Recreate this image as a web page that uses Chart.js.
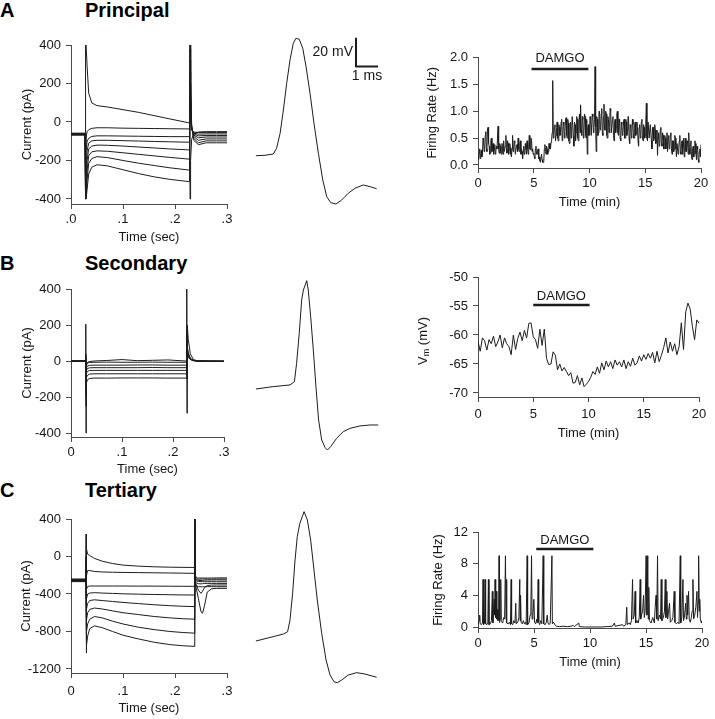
<!DOCTYPE html>
<html><head><meta charset="utf-8">
<script src="https://cdn.jsdelivr.net/npm/chart.js@4.4.1/dist/chart.umd.min.js"></script>
<style>
html,body{margin:0;padding:0;background:#fff;}
#wrap{position:relative;width:715px;height:719px;overflow:hidden;background:#fff;}
#wrap canvas{position:absolute;left:0;top:0;pointer-events:none;}
.ttl{position:absolute;font:bold 20px "Liberation Sans",Arial,sans-serif;line-height:20px;color:#000;white-space:nowrap;}
</style></head><body>
<div id="wrap">
<div class="ttl" style="left:0;top:0">A</div><div class="ttl" style="left:85px;top:0">Principal</div>
<div class="ttl" style="left:0;top:253px">B</div><div class="ttl" style="left:85px;top:253px">Secondary</div>
<div class="ttl" style="left:0;top:480px">C</div><div class="ttl" style="left:85px;top:480px">Tertiary</div>
<canvas id="la" width="715" height="719"></canvas>
<canvas id="ma" width="715" height="719"></canvas>
<canvas id="ra" width="715" height="719"></canvas>
<canvas id="lb" width="715" height="719"></canvas>
<canvas id="mb" width="715" height="719"></canvas>
<canvas id="rb" width="715" height="719"></canvas>
<canvas id="lc" width="715" height="719"></canvas>
<canvas id="mc" width="715" height="719"></canvas>
<canvas id="rc" width="715" height="719"></canvas>
</div>
<script>
// ---------------- DATA ----------------
// Left column: voltage-clamp current sweeps (time in s, current in pA)
const timesA = [0,0.027,0.028,0.029,0.031,0.034,0.04,0.05,0.07,0.1,0.13,0.16,0.19,0.228,0.229,0.230,0.232,0.236,0.245,0.26,0.28,0.3];
const sweepsA = [
  [-58,-58,400,400,290,150,99,85,78,64,50,33,16,-5,-400,-200,-90,-60,-52,-50,-50,-50],
  [-60,-60,-150,-80,-50,-40,-33,-30,-30,-32,-33,-34,-35,-36,120,10,-40,-52,-55,-55,-55,-55],
  [-61,-61,-250,-150,-100,-85,-75,-72,-72,-73,-74,-75,-76,-76,200,40,-40,-58,-63,-62,-62,-62],
  [-63,-63,-330,-220,-150,-110,-98,-95,-95,-97,-99,-101,-103,-105,260,70,-35,-62,-72,-70,-70,-70],
  [-64,-64,-400,-300,-200,-140,-125,-120,-121,-125,-130,-135,-140,-145,320,100,-30,-68,-82,-78,-78,-78],
  [-65,-65,-400,-350,-250,-175,-155,-150,-152,-160,-168,-176,-184,-193,380,140,-25,-75,-95,-88,-88,-88],
  [-67,-67,-400,-400,-300,-215,-190,-180,-185,-200,-214,-226,-238,-250,400,180,-20,-85,-108,-98,-98,-98],
  [-68,-68,-400,-400,-350,-270,-235,-222,-228,-248,-268,-285,-298,-310,400,220,-15,-95,-118,-108,-108,-108]
];
const timesB = [0,0.028,0.029,0.0295,0.030,0.032,0.036,0.045,0.07,0.1,0.13,0.16,0.19,0.226,0.227,0.2275,0.228,0.230,0.234,0.24,0.25,0.27,0.3];
const sweepsB = [
  [-2,0,205,-400,-20,-8,-3,0,3,8,2,4,6,0,400,-290,200,120,40,8,0,-2,-3],
  [0,-1,40,-60,-25,-12,-8,-7,-6,-7,-7,-6,-7,-7,60,-30,30,20,8,2,0,-1,-1],
  [-1,0,30,-90,-40,-28,-24,-23,-23,-23,-22,-22,-23,-23,80,-40,40,25,10,2,-1,-2,-2],
  [1,0,20,-120,-55,-42,-38,-37,-37,-37,-37,-36,-37,-37,100,-50,50,30,10,3,0,-1,-1],
  [0,0,10,-150,-70,-58,-53,-52,-52,-52,-52,-52,-52,-52,120,-60,60,35,12,3,0,0,-1],
  [0,-1,0,-200,-95,-80,-73,-71,-71,-71,-71,-71,-71,-71,150,-80,70,40,12,3,0,-1,-1],
  [-1,0,-10,-250,-125,-105,-97,-95,-95,-94,-94,-94,-95,-95,180,-100,80,45,15,4,0,-1,-2]
];
const timesC = [0,0.028,0.029,0.0295,0.030,0.032,0.036,0.045,0.06,0.08,0.1,0.13,0.16,0.19,0.215,0.238,0.2385,0.239,0.2395,0.241,0.245,0.25,0.253,0.257,0.262,0.27,0.28,0.3];
const sweepsC = [
  [-240,-240,240,-100,80,25,10,-20,-50,-75,-92,-103,-110,-114,-116,-117,400,-300,-200,-228,-230,-230,-229,-230,-230,-230,-229,-228],
  [-245,-245,0,-300,-200,-150,-150,-160,-165,-168,-170,-172,-174,-176,-178,-180,300,-250,-230,-240,-242,-241,-240,-240,-241,-241,-240,-240],
  [-250,-250,-50,-450,-350,-320,-315,-315,-315,-315,-315,-316,-316,-317,-318,-318,250,-260,-240,-250,-255,-258,-256,-252,-251,-251,-250,-251],
  [-253,-253,-100,-550,-450,-400,-390,-386,-390,-394,-398,-402,-405,-408,-410,-411,200,-270,-250,-262,-266,-268,-268,-269,-269,-269,-269,-269],
  [-256,-256,-150,-650,-560,-500,-470,-462,-470,-480,-490,-503,-515,-525,-531,-535,250,-280,-270,-283,-290,-292,-290,-288,-287,-287,-287,-287],
  [-260,-260,-200,-780,-680,-600,-565,-550,-560,-580,-600,-620,-640,-655,-664,-669,300,-290,-280,-300,-360,-393,-370,-330,-310,-305,-304,-304],
  [-264,-264,-250,-900,-800,-720,-670,-640,-655,-690,-720,-755,-780,-800,-811,-818,350,-300,-290,-315,-322,-323,-323,-322,-322,-322,-322,-322],
  [-268,-268,-300,-1030,-950,-850,-770,-740,-760,-800,-840,-880,-915,-940,-952,-959,400,-310,-300,-340,-450,-590,-605,-520,-380,-345,-340,-340]
];
const secTicks = [0, 0.1, 0.2, 0.3];
const secLabelsA = ['.0', '.1', '.2', '.3'];
const secLabelsBC = ['0', '.1', '.2', '.3'];
const currTicksAB = [400, 200, 0, -200, -400];
const currTicksC = [400, 0, -400, -800, -1200];

// Middle column: action potential waveforms (time in ms, Vm in mV)
const apTimeA = [0.45,0.86,1.24,1.39,1.55,1.70,1.85,2.0,2.15,2.27,2.42,2.58,2.73,2.91,3.09,3.29,3.49,3.67,3.85,4.09,4.35,4.65,4.95,5.33,5.64,5.94];
const apVmA   = [-59.8,-59.5,-58.6,-54.5,-43.8,-27.1,-8.1,8.6,20.5,24.1,23.4,16.9,3.8,-15.2,-36.6,-58.1,-77.1,-89.1,-93.3,-94.3,-91.4,-86.6,-83.1,-80.7,-81.9,-83.4];
const apTimeB = [0.45,1.24,2.0,2.2,2.30,2.42,2.53,2.61,2.76,2.83,2.94,3.06,3.18,3.30,3.44,3.59,3.70,3.85,4.12,4.42,4.73,5.18,5.64,6.01];
const apVmB   = [-60,-58.3,-57.1,-54.8,-41.7,-20.2,3.6,10.7,17.4,10.7,-8.4,-32.1,-58.4,-82.1,-96.4,-101.7,-103.6,-101.2,-95.2,-90.5,-88.1,-86.4,-85.7,-85.7];
const apTimeC = [0.45,1.24,1.70,1.89,2.0,2.12,2.23,2.33,2.45,2.64,2.79,2.94,3.09,3.24,3.44,3.64,3.82,4.0,4.15,4.35,4.65,5.03,5.41,5.94];
const apVmC   = [-60,-56.9,-55,-53.4,-45,-25.9,-2.1,14.5,24.1,32.4,26.4,12.1,-9.3,-30.7,-54.5,-73.6,-84.3,-89.1,-89.8,-87.9,-84.3,-82.6,-83.6,-85.9];
const scaleBarMs = [5.0, 5.0, 6.0];     // 1 ms horizontal
const scaleBarMv = [24, 4, 4];          // 20 mV vertical

// Right column: time courses (min)
const minTicks = [0, 5, 10, 15, 20];
const minLabels = ['0', '5', '10', '15', '20'];
const rateStepA = 0.05; // min between samples
const rateA = [
  0.15,0.1,0.22,0.3,0.12,0.2,0.28,0.15,0.2,0.5,0.45,0.25,0.3,0.55,0.62,0.3,0.25,0.68,0.7,0.4,
  0.35,0.2,0.22,0.45,0.5,0.25,0.28,0.4,0.2,0.3,0.38,0.2,0.25,0.35,0.3,0.5,0.72,0.3,0.22,0.4,
  0.35,0.22,0.2,0.4,0.3,0.2,0.45,0.25,0.25,0.35,0.55,0.3,0.22,0.45,0.4,0.2,0.28,0.4,0.32,0.2,
  0.15,0.3,0.55,0.25,0.3,0.45,0.42,0.2,0.2,0.35,0.38,0.25,0.5,0.3,0.25,0.4,0.45,0.2,0.3,0.25,
  0.12,0.25,0.35,0.2,0.25,0.4,0.3,0.2,0.45,0.3,0.2,0.35,0.55,0.3,0.28,0.5,0.48,0.25,0.3,0.2,
  0.22,0.15,0.12,0.3,0.35,0.2,0.2,0.28,0.3,0.12,0.15,0.08,0.05,0.05,0.2,0.1,0.05,0.05,0.08,0.3,
  0.38,0.25,0.2,0.35,0.3,0.2,0.25,0.4,0.4,0.3,0.3,0.42,0.45,0.6,1.57,0.5,0.55,0.7,0.75,0.45,
  0.55,0.7,0.8,0.5,0.45,0.75,0.7,0.55,0.6,0.8,0.85,0.45,0.5,0.8,0.75,0.5,0.62,0.85,0.88,0.55,
  0.5,0.85,0.78,0.45,0.4,0.75,0.8,0.5,0.65,0.9,0.9,0.55,0.35,0.8,0.75,0.45,0.6,0.9,0.85,0.5,
  0.45,0.8,0.95,0.6,1.12,0.65,0.55,0.9,0.85,0.5,0.6,0.95,0.9,0.55,0.5,0.85,0.2,0.7,0.75,0.55,
  0.6,0.9,0.85,0.55,0.55,0.95,0.9,0.6,0.7,0.85,1.83,0.7,0.25,0.9,0.85,0.55,0.6,1.0,1.0,0.65,
  0.7,0.95,1.05,0.6,0.55,0.9,1.13,0.65,0.65,1.0,0.95,0.55,0.5,0.9,0.85,0.6,0.7,1.05,1.0,0.6,
  0.6,0.85,0.9,0.55,0.45,0.8,0.85,0.6,0.7,0.95,1.0,0.6,0.55,0.85,0.8,0.5,0.45,0.8,0.75,0.55,
  0.6,0.8,0.85,0.5,0.5,0.85,0.8,0.55,0.65,0.9,0.9,0.5,0.4,0.75,0.7,0.5,0.6,0.85,0.75,0.5,
  0.5,0.75,0.8,0.55,0.6,0.8,0.7,0.45,0.35,0.7,0.75,0.5,0.55,0.8,0.85,0.5,0.45,0.75,0.7,0.5,
  0.55,0.8,1.15,0.5,0.45,0.8,0.8,0.5,0.5,0.75,0.75,0.45,0.3,0.7,0.7,0.45,0.5,0.75,0.65,0.4,
  0.45,0.65,0.18,0.5,0.6,0.35,0.4,0.65,0.7,0.4,0.35,0.6,0.55,0.3,0.3,0.55,0.5,0.3,0.4,0.6,
  0.25,0.5,0.55,0.3,0.35,0.55,0.6,0.3,0.2,0.45,0.45,0.25,0.3,0.55,0.5,0.3,0.15,0.4,0.4,0.2,
  0.3,0.45,0.55,0.25,0.2,0.4,0.45,0.2,0.35,0.5,0.15,0.35,0.5,0.25,0.25,0.45,0.4,0.2,0.6,0.3,
  0.2,0.4,0.45,0.15,0.1,0.3,0.35,0.15,0.25,0.45,0.4,0.2,0.1,0.35,0.3,0.1,0.05,0.25,0.3,0.15,0.38
];
const rateTicksA = [0, 0.5, 1, 1.5, 2];
const rateLabelsA = ['0.0', '0.5', '1.0', '1.5', '2.0'];
const damgoA = [4.8, 9.9], damgoLevelA = 1.786;

const vmStepB = 0.2; // min between samples
const vmB = [
  -61.1,-62.8,-60.5,-61.0,-62.6,-60.8,-61.5,-60.2,-62.0,-61.2,
  -60.0,-62.2,-60.5,-61.5,-62.0,-63.4,-60.0,-62.5,-60.6,-59.5,
  -61.0,-59.2,-60.5,-58.0,-57.9,-60.3,-60.8,-62.3,-59.0,-61.8,
  -59.0,-64.0,-65.1,-65.0,-62.9,-63.5,-66.0,-65.0,-66.2,-65.6,
  -66.3,-67.0,-66.5,-68.3,-68.2,-67.0,-68.6,-67.4,-68.9,-68.5,
  -68.0,-67.3,-66.3,-66.8,-65.5,-66.6,-64.8,-66.0,-64.5,-65.5,
  -64.6,-65.8,-64.3,-65.2,-64.6,-65.5,-64.3,-65.8,-64.6,-65.4,
  -64.0,-65.2,-64.8,-63.6,-64.5,-63.4,-64.2,-63.2,-64.0,-63.0,
  -64.8,-62.8,-64.6,-63.5,-62.2,-60.5,-63.1,-61.2,-62.8,-61.5,
  -63.4,-62.0,-57.9,-62.5,-56.0,-54.5,-55.5,-58.5,-60.8,-57.4,
  -58.0
];
const vmTicksB = [-70, -65, -60, -55, -50];
const vmLabelsB = ['-70', '-65', '-60', '-55', '-50'];
const damgoB = [5.0, 10.1], damgoLevelB = -54.83;

const rateC = [
  [0,0.3],[0.1,0.8],[0.15,1.5],[0.2,0.4],[0.3,0.3],[0.4,0.5],[0.45,6],[0.5,0.3],[0.58,0.5],[0.63,6],[0.68,0.4],[0.8,0.3],[0.88,0.6],[0.93,6],[0.98,0.3],
  [1.1,0.4],[1.2,0.8],[1.28,4.5],[1.33,0.5],[1.4,2.5],[1.45,3.5],[1.5,1.5],[1.52,6],[1.56,2.8],[1.6,1.2],[1.64,4.5],[1.68,1.0],[1.72,2.2],[1.78,0.8],[1.84,1.2],[1.88,9],[1.92,0.6],[1.98,1.0],
  [2.03,6],[2.08,0.7],[2.2,0.5],[2.3,1.2],[2.38,1.0],[2.45,9],[2.5,1.2],[2.54,6],[2.58,0.5],[2.7,0.4],[2.8,0.6],[2.9,0.3],[2.96,6],
  [3.0,0.4],[3.1,0.3],[3.2,0.8],[3.3,0.5],[3.37,3],[3.42,0.4],[3.55,0.6],[3.65,1.2],[3.73,6],[3.76,0.8],[3.8,4],[3.85,0.6],[3.95,0.4],
  [4.05,0.8],[4.15,0.4],[4.25,0.6],[4.3,0.3],[4.39,9],[4.43,0.3],[4.55,0.5],[4.65,1.5],[4.72,2.0],[4.78,9],[4.83,1.0],[4.9,1.5],[4.99,3.5],
  [5.05,0.6],[5.15,0.4],[5.25,1.0],[5.3,0.5],[5.37,6],[5.42,0.6],[5.5,0.3],[5.6,0.8],[5.7,0.4],[5.82,9],[5.87,0.4],
  [6.0,0.3],[6.1,0.6],[6.18,1.5],[6.25,0.5],[6.35,0.3],[6.45,0.5],[6.6,9],[6.64,0.4],[6.7,0.6],[6.8,0.5],[6.9,0.2],
  [7.0,0.1],[7.3,0.05],[7.6,0.1],[8.0,0.05],[8.3,0.1],[8.5,0.2],[8.6,0.05],[9.0,0.5],[9.05,0.05],[9.5,0.0],[10.0,0.0],[10.5,0.0],[11.0,0.0],[11.5,0.05],
  [12.0,0.1],[12.18,0.5],[12.25,0.1],[12.6,0.2],[12.9,0.3],[13.0,0.1],[13.2,0.3],[13.28,2.5],[13.33,0.3],[13.5,0.5],[13.6,0.3],[13.7,0.8],[13.8,6],[13.85,1.0],[13.95,1.5],
  [14.03,4.5],[14.08,0.5],[14.2,0.8],[14.3,0.5],[14.4,1.2],[14.48,6],[14.53,1.0],[14.6,1.5],[14.7,2.0],[14.78,4],[14.85,1.2],[14.92,2.0],
  [15.01,9],[15.08,1.5],[15.16,9],[15.2,1.0],[15.25,5],[15.3,0.8],[15.45,0.5],[15.6,1.2],[15.75,0.5],[15.82,2.5],[15.9,4],[15.96,1.0],
  [16.03,9],[16.08,0.8],[16.2,1.5],[16.3,1.0],[16.36,6],[16.42,0.8],[16.55,1.2],[16.65,2.0],[16.72,6],[16.78,1.2],[16.87,4.5],[16.93,1.0],
  [17.0,1.8],[17.1,3],[17.17,0.6],[17.3,0.8],[17.4,1.2],[17.52,4.5],[17.58,0.6],[17.7,0.4],[17.85,0.6],[17.95,0.4],
  [18.06,9],[18.1,0.5],[18.2,1.2],[18.3,6],[18.35,0.8],[18.45,1.5],[18.54,3],[18.6,1.0],[18.66,4],[18.72,1.5],[18.8,4.5],[18.86,1.0],[18.95,0.6],
  [19.05,1.2],[19.12,2.0],[19.19,6],[19.25,1.0],[19.35,1.5],[19.45,2.5],[19.55,4.5],[19.6,1.2],[19.65,3],[19.7,9],[19.75,2.0],[19.8,3.5],[19.85,1.0],[19.9,1.0],[19.95,0.5],[20.0,0.8]
];
const rateTicksC = [0, 4, 8, 12];
const rateLabelsC = ['0', '4', '8', '12'];
const damgoC = [5.2, 10.3], damgoLevelC = 9.85;

// ---------------- RENDERING ----------------
const W = 715, H = 719, FS = 13, LH = FS * 1.2;
const FONT = '"Liberation Sans", Arial, Helvetica, sans-serif';
const AXIS = '#4a4a4a', TRACE = '#1c1c1c', TEXT = '#161616';
Chart.defaults.font.family = FONT;
Chart.defaults.font.size = FS;
Chart.defaults.color = TEXT;

const textMarks = {
  id: 'textMarks',
  afterDatasetsDraw(chart, args, opts) {
    const items = opts.items || [];
    if (!items.length) return;
    const ctx = chart.ctx;
    ctx.save();
    items.forEach(it => {
      const x = chart.scales.x.getPixelForValue(it.x) + (it.dx || 0);
      const y = chart.scales.y.getPixelForValue(it.y) + (it.dy || 0);
      ctx.font = (it.size || FS) + 'px ' + FONT;
      ctx.fillStyle = TEXT;
      ctx.textAlign = it.align || 'center';
      ctx.textBaseline = 'middle';
      ctx.fillText(it.text, x, y);
    });
    ctx.restore();
  }
};
const vmTitle = {
  id: 'vmTitle',
  afterDraw(chart, args, opts) {
    if (!opts.show) return;
    const ys = chart.scales.y, ctx = chart.ctx, ca = chart.chartArea;
    const cx = ys.left + LH / 2, cy = (ca.top + ca.bottom) / 2 + 4;
    const big = FS + 'px ' + FONT, small = '9px ' + FONT;
    ctx.save();
    ctx.translate(cx, cy); ctx.rotate(-Math.PI / 2);
    ctx.fillStyle = TEXT; ctx.textBaseline = 'middle'; ctx.textAlign = 'left';
    ctx.font = big; const w1 = ctx.measureText('V').width, w3 = ctx.measureText(' (mV)').width;
    ctx.font = small; const w2 = ctx.measureText('m').width;
    let x = -(w1 + w2 + w3) / 2;
    ctx.font = big; ctx.fillText('V', x, 0); x += w1;
    ctx.font = small; ctx.fillText('m', x, 4); x += w2;
    ctx.font = big; ctx.fillText(' (mV)', x, 0);
    ctx.restore();
  }
};
Chart.register(textMarks, vmTitle);

function xy(xs, ys) { return xs.map((x, i) => ({ x: x, y: ys[i] })); }
function series(step, vals) { return vals.map((v, i) => ({ x: +(i * step).toFixed(3), y: v })); }
function trace(data, w) { return { data: data, borderColor: TRACE, borderWidth: w || 1, pointRadius: 0, tension: 0, fill: false, borderJoinStyle: 'round' }; }

function axisChart(id, g, datasets, ax) {
  const padL = g.yTitleX - LH / 2, yw = g.L - padL;
  const sb = g.xTitleY + LH / 2, xh = sb - g.B;
  const setTicks = vals => s => { s.ticks = vals.map(v => ({ value: v })); };
  const gridOpt = { display: true, drawOnChartArea: false, drawTicks: true, tickLength: 5, color: AXIS, lineWidth: 1 };
  return new Chart(document.getElementById(id), {
    type: 'line',
    data: { datasets: datasets },
    options: {
      responsive: false, animation: false, events: [],
      layout: { padding: { left: padL, top: g.T, right: W - g.R, bottom: H - sb } },
      plugins: { legend: { display: false }, tooltip: { enabled: false },
                 textMarks: { items: ax.texts || [] }, vmTitle: { show: !!ax.vmTitle } },
      scales: {
        x: { type: 'linear', position: 'bottom', min: ax.xMin, max: ax.xMax,
             afterFit: s => { s.height = xh; },
             afterBuildTicks: setTicks(ax.xTicks),
             ticks: { callback: (v, i) => ax.xLabels[i], autoSkip: false, maxRotation: 0, padding: ax.xPad == null ? 3 : ax.xPad, color: TEXT },
             grid: gridOpt, border: { display: true, color: AXIS, width: 1 },
             title: { display: true, text: ax.xTitle, padding: 0, color: TEXT } },
        y: { type: 'linear', position: 'left', min: ax.yMin, max: ax.yMax,
             afterFit: s => { s.width = yw; },
             afterBuildTicks: setTicks(ax.yTicks),
             ticks: { callback: (v, i) => ax.yLabels[i], autoSkip: false, padding: 5, color: TEXT },
             grid: gridOpt, border: { display: true, color: AXIS, width: 1 },
             title: { display: !ax.vmTitle, text: ax.yTitle || '', padding: 0, color: TEXT } }
      }
    }
  });
}

function apChart(id, top, datasets, texts) {
  return new Chart(document.getElementById(id), {
    type: 'line',
    data: { datasets: datasets },
    options: {
      responsive: false, animation: false, events: [],
      layout: { padding: { left: 246, right: W - 400, top: top, bottom: H - (top + 210) } },
      plugins: { legend: { display: false }, tooltip: { enabled: false }, textMarks: { items: texts || [] } },
      scales: { x: { type: 'linear', display: false, min: 0, max: 7 },
                y: { type: 'linear', display: false, min: -110, max: 40 } }
    }
  });
}

// Row A
axisChart('la', { L: 71, T: 45, R: 227, B: 204, yTitleX: 27, xTitleY: 237 },
  sweepsA.map(s => trace(xy(timesA, s))),
  { xMin: 0, xMax: 0.3, xTicks: secTicks, xLabels: secLabelsA, xTitle: 'Time (sec)',
    yMin: -426, yMax: 400, yTicks: currTicksAB, yLabels: currTicksAB.map(String), yTitle: 'Current (pA)' });
apChart('ma', 16, [trace(xy(apTimeA, apVmA)), trace(xy(scaleBarMs, scaleBarMv), 2)],
  [{ text: '20 mV', x: scaleBarMs[0], y: 14, dx: -3, align: 'right', size: 14 },
   { text: '1 ms', x: 5.5, y: scaleBarMv[2], dy: 10, size: 14 }]);
axisChart('ra', { L: 478, T: 57.5, R: 701, B: 168, yTitleX: 432, xTitleY: 202 },
  [trace(series(rateStepA, rateA)), trace(xy(damgoA, [damgoLevelA, damgoLevelA]), 2.5)],
  { xMin: 0, xMax: 20, xTicks: minTicks, xLabels: minLabels, xTitle: 'Time (min)',
    yMin: -0.056, yMax: 2, yTicks: rateTicksA, yLabels: rateLabelsA, yTitle: 'Firing Rate (Hz)',
    texts: [{ text: 'DAMGO', x: (damgoA[0] + damgoA[1]) / 2, y: damgoLevelA, dy: -11 }] });

// Row B
axisChart('lb', { L: 71, T: 289, R: 224, B: 437, yTitleX: 27, xTitleY: 469 },
  sweepsB.map(s => trace(xy(timesB, s))),
  { xMin: 0, xMax: 0.3, xTicks: secTicks, xLabels: secLabelsBC, xTitle: 'Time (sec)',
    yMin: -422, yMax: 400, yTicks: currTicksAB, yLabels: currTicksAB.map(String), yTitle: 'Current (pA)' });
apChart('mb', 249, [trace(xy(apTimeB, apVmB))], []);
axisChart('rb', { L: 478, T: 277, R: 699, B: 397, yTitleX: 423, xTitleY: 433 },
  [trace(series(vmStepB, vmB)), trace(xy(damgoB, [damgoLevelB, damgoLevelB]), 2.5)],
  { xMin: 0, xMax: 20, xTicks: minTicks, xLabels: minLabels, xTitle: 'Time (min)', xPad: 5,
    yMin: -70.69, yMax: -50, yTicks: vmTicksB, yLabels: vmLabelsB, vmTitle: true,
    texts: [{ text: 'DAMGO', x: (damgoB[0] + damgoB[1]) / 2, y: damgoLevelB, dy: -9 }] });

// Row C
axisChart('lc', { L: 71, T: 519, R: 227, B: 673, yTitleX: 26, xTitleY: 708 },
  sweepsC.map(s => trace(xy(timesC, s))),
  { xMin: 0, xMax: 0.3, xTicks: secTicks, xLabels: secLabelsBC, xTitle: 'Time (sec)', xPad: 6,
    yMin: -1243, yMax: 400, yTicks: currTicksC, yLabels: currTicksC.map(String), yTitle: 'Current (pA)' });
apChart('mc', 501, [trace(xy(apTimeC, apVmC))], []);
axisChart('rc', { L: 478, T: 532, R: 702, B: 628, yTitleX: 438, xTitleY: 662 },
  [trace(rateC.map(p => ({ x: p[0], y: p[1] }))), trace(xy(damgoC, [damgoLevelC, damgoLevelC]), 2.5)],
  { xMin: 0, xMax: 20, xTicks: minTicks, xLabels: minLabels, xTitle: 'Time (min)',
    yMin: -0.126, yMax: 12, yTicks: rateTicksC, yLabels: rateLabelsC, yTitle: 'Firing Rate (Hz)',
    texts: [{ text: 'DAMGO', x: (damgoC[0] + damgoC[1]) / 2, y: damgoLevelC, dy: -9 }] });
</script>
</body></html>
